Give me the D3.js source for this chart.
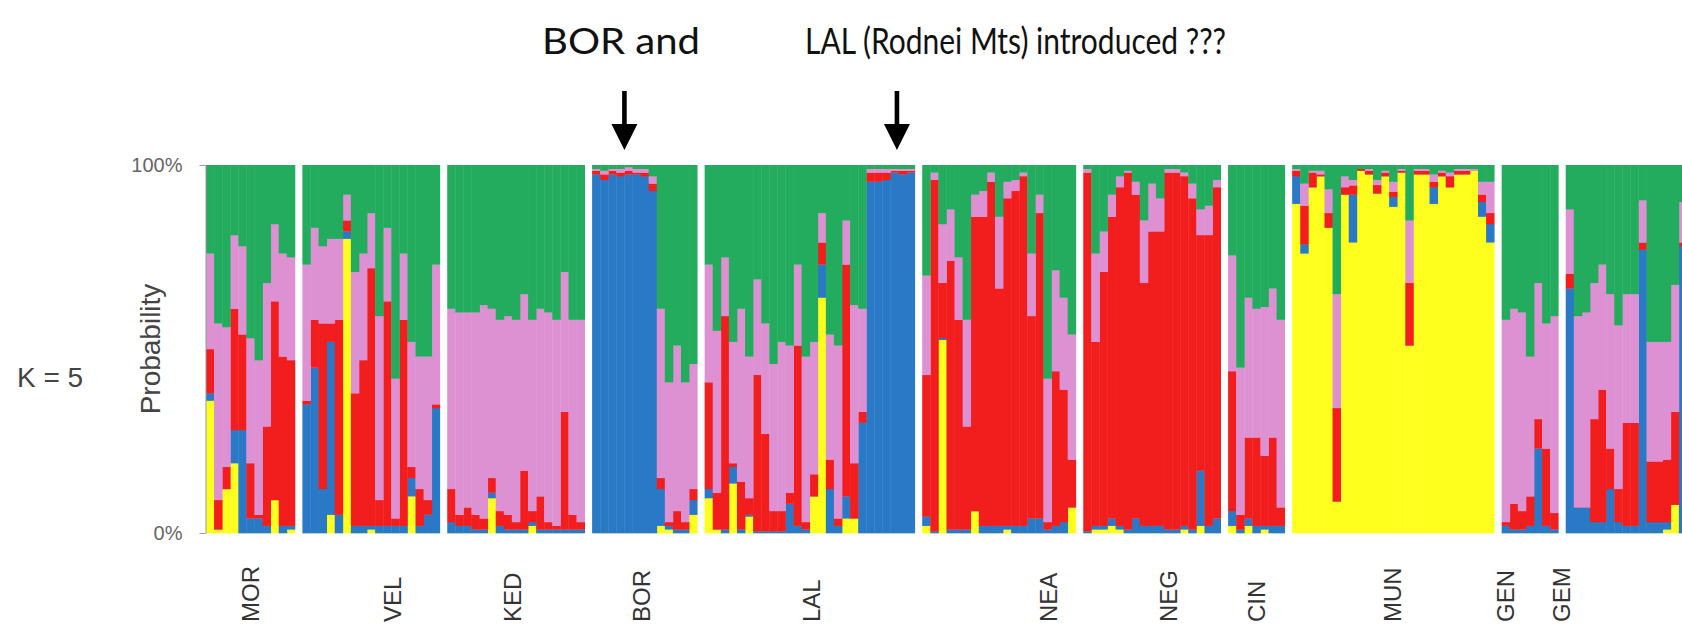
<!DOCTYPE html>
<meta charset="utf-8">
<style>
body {
    margin: 0;
    background: #fff;
}
svg {
    display: block;
}
text {
    font-family: "Liberation Sans", Arial, sans-serif;
}
.title {
    font-family: Lato, "Open Sans", sans-serif;
    fill: #111;
}
.axis path, .axis line {
    stroke: #999;
}
.axis text {
    fill: #666;
    font-size: 20px;
}
</style>
<svg width="1682" height="629"></svg>
<script src="https://d3js.org/d3.v7.min.js"></script>
<script>
// cluster order, bottom of the bar to the top
var clusters = ["yellow", "blue", "red", "pink", "green"];
var clusterColors = ["#ffff1e", "#2a79c6", "#f21d1d", "#dd90d2", "#23ab5e"];

var populations = ["MOR", "VEL", "KED", "BOR", "LAL", "NEA", "NEG", "CIN", "MUN", "GEN", "GEM"];

// membership per individual: [yellow, blue, red, pink, green]
var MOR = [
  [.36,.02,.12,.26,.24],[.01,0,.08,.48,.43],[.12,0,.06,.38,.44],[.19,.09,.33,.20,.19],
  [0,.28,.26,.24,.22],[0,.04,.15,.34,.47],[0,.04,.01,.42,.53],[0,.02,.27,.39,.32],
  [.09,0,.54,.21,.16],[0,.02,.46,.28,.24],[.01,.01,.45,.28,.25]
];
var VEL = [
  [0,.35,.01,.37,.27],[0,.45,.13,.25,.17],[0,.12,.45,.21,.22],[.05,.47,.05,.23,.20],
  [0,.05,.53,.22,.20],[.80,.02,.03,.07,.08],[0,.02,.36,.33,.29],[0,.02,.45,.29,.24],
  [.01,.01,.70,.15,.13],[0,.02,.07,.50,.41],[0,.02,.61,.20,.17],[0,.02,.02,.38,.58],
  [0,.02,.56,.18,.24],[.10,.05,.03,.34,.48],[0,.02,.10,.36,.52],[0,.05,.04,.39,.52],
  [0,.34,.01,.38,.27]
];
var KED = [
  [0,.03,.09,.49,.39],[0,.02,.03,.55,.40],[0,.02,.05,.53,.40],[0,.01,.04,.55,.40],
  [0,.01,.03,.58,.38],[.095,.015,.04,.46,.39],[0,.02,.04,.52,.42],[0,.01,.04,.54,.41],
  [0,.01,.02,.55,.42],[0,.01,.16,.48,.35],[.02,.01,.03,.52,.42],[0,.01,.09,.51,.39],
  [0,.01,.02,.57,.40],[0,.01,.01,.56,.42],[0,.01,.32,.38,.29],[0,.01,.04,.53,.42],
  [0,.01,.02,.55,.42]
];
var BOR = [
  [0,.975,.01,.005,.01],[0,.96,.015,.01,.015],[0,.975,.01,.005,.01],[0,.97,.01,.01,.01],
  [0,.975,.01,.01,.005],[0,.975,.005,.01,.01],[0,.97,.01,.01,.01],[0,.93,.02,.02,.03],
  [.02,.10,.03,.46,.39],[.01,.01,.01,.38,.59],[0,.01,.05,.45,.49],[0,.01,.02,.38,.59],
  [.05,.04,.03,.34,.54]
];
var LAL = [
  [.095,.025,.29,.32,.27],[.01,0,.10,.44,.45],[0,.01,.58,.16,.25],[.135,.045,.01,.33,.48],
  [0,.01,.13,.47,.39],[.045,.005,.045,.385,.52],[0,.005,.425,.26,.31],[0,.005,.265,.30,.43],
  [0,.005,.055,.40,.54],[0,.005,.055,.46,.48],[0,.08,.03,.40,.49],[0,.02,.49,.22,.27],
  [0,.01,.02,.45,.52],[.10,0,.06,.36,.48],[.64,.09,.06,.08,.13],[0,.12,.08,.34,.46],
  [0,.02,.02,.47,.49],[.04,.06,.63,.12,.15],[.04,0,.15,.43,.38],[0,.30,.03,.28,.39],
  [0,.955,.025,.01,.01],[0,.955,.025,.01,.01],[0,.96,.02,.01,.01],[0,.98,.005,.005,.01],
  [0,.975,.01,.005,.01],[0,.98,.005,.005,.01]
];
var NEA = [
  [.02,.025,.385,.27,.30],[0,.005,.955,.02,.02],[.525,.005,.15,.16,.16],[0,.01,.73,.14,.12],
  [0,.01,.57,.17,.25],[0,.01,.28,.29,.42],[.06,0,.80,.06,.08],[0,.02,.84,.07,.07],
  [0,.02,.935,.025,.02],[0,.02,.645,.195,.14],[.01,.01,.89,.045,.045],[0,.02,.91,.03,.04],
  [0,.02,.95,.01,.02],[0,.04,.55,.17,.24],[0,.04,.83,.05,.08],[0,.01,.02,.39,.58],
  [0,.02,.42,.275,.285],[0,.03,.36,.25,.36],[.07,0,.13,.34,.46]
];
var NEG = [
  [0,.005,.975,.01,.01],[.01,.01,.50,.24,.24],[.01,.01,.69,.11,.18],[.02,.02,.82,.06,.08],
  [.01,.01,.92,.03,.03],[0,.01,.97,.005,.015],[0,.04,.88,.035,.045],[0,.02,.66,.17,.15],
  [0,.02,.80,.13,.05],[0,.02,.80,.09,.09],[0,.01,.97,.01,.01],[0,.01,.97,.01,.01],
  [.01,.01,.95,.01,.02],[0,.01,.90,.04,.05],[.02,.15,.64,.07,.12],[0,.02,.79,.08,.11],
  [0,.04,.90,.02,.04]
];
var CIN = [
  [.02,.04,.38,.315,.245],[0,.01,.04,.40,.55],[.02,.02,.22,.38,.36],[0,.02,.24,.35,.39],
  [.01,.01,.19,.405,.385],[0,.02,.24,.405,.335],[0,.02,.05,.51,.42]
];
var MUN = [
  [.895,.075,.015,.005,.01],[.76,.025,.105,.06,.05],[.94,0,.04,.005,.015],[.97,0,.005,.01,.015],
  [.83,0,.04,.065,.065],[.086,0,.254,.31,.35],[.92,0,.02,.03,.03],[.79,.13,.025,.015,.04],
  [.985,0,.005,0,.01],[.975,0,.01,.005,.01],[.923,0,.023,.014,.04],[.97,0,.01,.005,.015],
  [.887,.027,.014,.027,.045],[.98,0,.005,.005,.01],[.51,0,.17,.17,.15],[.975,0,.01,.005,.01],
  [.975,0,.01,.005,.01],[.895,.045,.015,.02,.025],[.97,0,.01,.005,.015],[.94,0,.03,.01,.02],
  [.975,0,.01,.005,.01],[.975,0,.01,.005,.01],[.985,0,0,.005,.01],[.86,.04,.02,.035,.045],
  [.79,.05,.03,.085,.045]
];
var GEN = [
  [0,.02,.01,.55,.42],[0,.01,.07,.53,.39],[0,.01,.05,.54,.40],[0,.02,.08,.38,.52],
  [0,.23,.08,.37,.32],[0,.02,.21,.34,.43],[0,.01,.045,.535,.41]
];
var GEM = [
  [0,.665,.04,.175,.12],[0,.07,0,.52,.41],[0,.07,0,.53,.40],[0,.03,.28,.37,.32],
  [0,.03,.36,.34,.27],[0,.12,.11,.42,.35],[0,.03,.09,.445,.435],[0,.02,.28,.35,.35],
  [0,.02,.28,.35,.35],[0,.77,.02,.115,.095],[0,.03,.165,.325,.48],[0,.03,.165,.325,.48],
  [.01,.02,.17,.32,.48],[.077,0,.253,.345,.325],[0,.78,.01,.11,.10]
];
var groups = [MOR, VEL, KED, BOR, LAL, NEA, NEG, CIN, MUN, GEN, GEM];

// where each population name sits, counted in individuals from the group start
var labelAt = [5.5, 11.2, 8.1, 6.1, 13.2, 15.6, 10.6, 3.5, 12.4, 0.5, -0.5];

var title1 = "BOR  and";
var title2 = "LAL (Rodnei Mts) introduced ???";
// arrows point at an individual inside a population
var arrows = [{pop: "BOR", at: 4}, {pop: "LAL", at: 23.8}];

var svg = d3.select("svg");
var barW = 8.08, gapW = 7.5, left = 206;
var gapUnits = gapW / barW;

// flatten individuals, each with its slot position
var rows = [], starts = [];
var n = 0;
groups.forEach(function(g, gi) {
  starts.push(n + gi * gapUnits);
  g.forEach(function(q) {
    var r = {pos: n + gi * gapUnits, pop: populations[gi]};
    clusters.forEach(function(c, ci) { r[c] = q[ci]; });
    rows.push(r);
    n++;
  });
});
var totalUnits = n + (groups.length - 1) * gapUnits;

var x = d3.scaleLinear().domain([0, totalUnits]).range([left, left + totalUnits * barW]);
var y = d3.scaleLinear().domain([0, 1]).range([533, 165]);
var color = d3.scaleOrdinal().domain(clusters).range(clusterColors);

var series = d3.stack().keys(clusters).offset(d3.stackOffsetExpand)(rows);

svg.append("g").selectAll("g")
  .data(series).enter().append("g")
    .attr("fill", function(d) { return color(d.key); })
  .selectAll("rect")
  .data(function(d) { return d; }).enter().append("rect")
    .attr("x", function(d) { return x(d.data.pos); })
    .attr("width", function(d) { return x(d.data.pos + 1) - x(d.data.pos) + 0.4; })
    .attr("y", function(d) { return y(d[1]); })
    .attr("height", function(d) { return Math.max(0, y(d[0]) - y(d[1]) + 0.3); });

// y axis
var axis = svg.append("g")
  .attr("class", "axis")
  .attr("transform", "translate(" + (left - 0.5) + ",0)")
  .call(d3.axisLeft(y).tickValues([0, 1]).tickFormat(d3.format(".0%")).tickSize(6).tickSizeOuter(0).tickPadding(17));
axis.select(".domain").attr("stroke", "#bbb");
axis.selectAll(".tick text").attr("font-family", "'Liberation Sans', Arial, sans-serif");

svg.append("text")
  .attr("transform", "translate(160," + y(0.5) + ") rotate(-90)")
  .attr("text-anchor", "middle")
  .attr("font-size", 28)
  .attr("fill", "#444")
  .text("Probability");

svg.append("text")
  .attr("x", 17)
  .attr("y", 387)
  .attr("font-size", 28)
  .attr("fill", "#444")
  .text("K = 5");

// population names
svg.append("g").selectAll("text")
  .data(populations).enter().append("text")
    .attr("transform", function(d, i) {
      return "translate(" + (x(starts[i] + labelAt[i]) + 8.5) + ",622) rotate(-90)";
    })
    .attr("font-size", 24)
    .attr("fill", "#333")
    .text(function(d) { return d; });

// title
svg.append("text").attr("class", "title")
  .attr("x", 542).attr("y", 54)
  .attr("font-size", 37)
  .attr("textLength", 158).attr("lengthAdjust", "spacingAndGlyphs")
  .text(title1);
svg.append("text").attr("class", "title")
  .attr("x", 805).attr("y", 54)
  .attr("font-size", 37)
  .attr("textLength", 421).attr("lengthAdjust", "spacingAndGlyphs")
  .text(title2);

// arrows
svg.append("g").selectAll("path")
  .data(arrows).enter().append("path")
    .attr("fill", "#000")
    .attr("d", function(d) {
      var cx = x(starts[populations.indexOf(d.pop)] + d.at);
      return "M" + (cx - 2.3) + ",91 L" + (cx + 2.3) + ",91 L" + (cx + 2.3) + ",124 L" + (cx + 13) + ",124 L" + cx + ",150 L" + (cx - 13) + ",124 L" + (cx - 2.3) + ",124 Z";
    });
</script>
